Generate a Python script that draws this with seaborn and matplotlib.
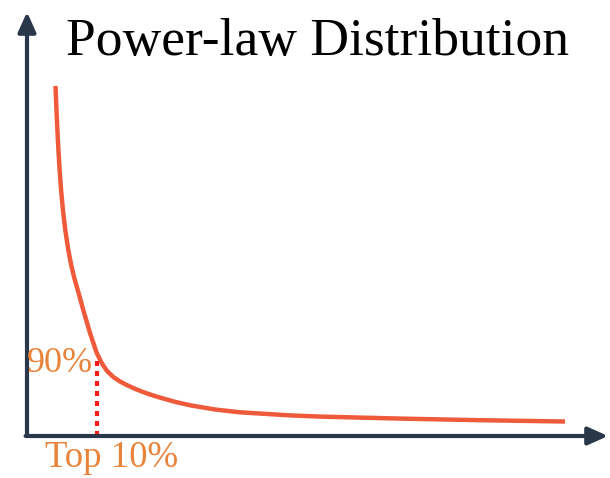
import numpy as np
import pandas as pd
import seaborn as sns
import matplotlib.pyplot as plt

# curve: x = rank share (%), y = relative value
rank_pct = [4.07, 4.21, 4.34, 4.49, 4.66, 4.87, 5.13, 5.47, 5.90, 6.31, 6.76, 7.29,
            8.04, 9.00, 9.96, 10.67, 11.43, 12.33, 13.29, 14.24, 15.43, 16.57, 17.71,
            19.00, 21.14, 23.29, 26.86, 30.43, 37.57, 41.86, 53.29, 64.71, 76.86]
value = [99.72, 92.88, 87.18, 81.48, 75.78, 70.09, 64.39, 58.69, 52.99, 48.72, 45.01,
         41.31, 35.90, 29.34, 23.65, 20.80, 18.52, 16.81, 15.53, 14.53, 13.45, 12.54,
         11.74, 10.94, 9.74, 8.75, 7.55, 6.75, 5.87, 5.53, 4.96, 4.50, 4.13]
cut_x = 10.0
cut_y = 21.5
title = "Power-law Distribution"
label_y = "90%"
label_x = "Top 10%"

sns.set_theme(style="white")
plt.rcParams['font.family'] = ['Liberation Serif', 'DejaVu Serif']

fig = plt.figure(figsize=(6.1, 4.78), dpi=100)
ax = fig.add_axes([0, 0, 1, 1])
kx, ky = 7.0, 3.51  # px per unit
ax.set_xlim(-27 / kx, (610 - 27) / kx)
ax.set_ylim(-(478 - 436) / ky, 436 / ky)
ax.axis("off")

df = pd.DataFrame({"rank": rank_pct, "value": value})
sns.lineplot(data=df, x="rank", y="value", ax=ax, color="#EE5A3A", lw=3.2,
             solid_capstyle="butt", solid_joinstyle="round")

axis_col = "#2A374A"
ax.annotate("", xy=(0, (436 - 12) / ky), xytext=(0, 0),
            arrowprops=dict(arrowstyle="-|>,head_length=1.0,head_width=0.45",
                            lw=3, color=axis_col, shrinkA=0, shrinkB=0))
ax.annotate("", xy=((608 - 27) / kx, 0), xytext=(-0.2, 0),
            arrowprops=dict(arrowstyle="-|>,head_length=1.0,head_width=0.45",
                            lw=3, color=axis_col, shrinkA=0, shrinkB=0))

ax.plot([cut_x, cut_x], [0, cut_y], color="#FF1A1A", lw=3, dashes=(1.2, 1.2))

orange = "#E8833A"
ax.text(cut_x - 0.6, cut_y - 3.4, label_y, color=orange, fontsize=26,
        ha="right", va="baseline")
ax.text(45 / kx - 27 / kx, -(467 - 436) / ky, label_x, color=orange, fontsize=26.5,
        ha="left", va="baseline")

fig.text(318 / 610, 1 - 55 / 478, title, color="black", fontsize=38.5,
         ha="center", va="baseline")

fig.savefig("out.png", dpi=100, facecolor="white")
